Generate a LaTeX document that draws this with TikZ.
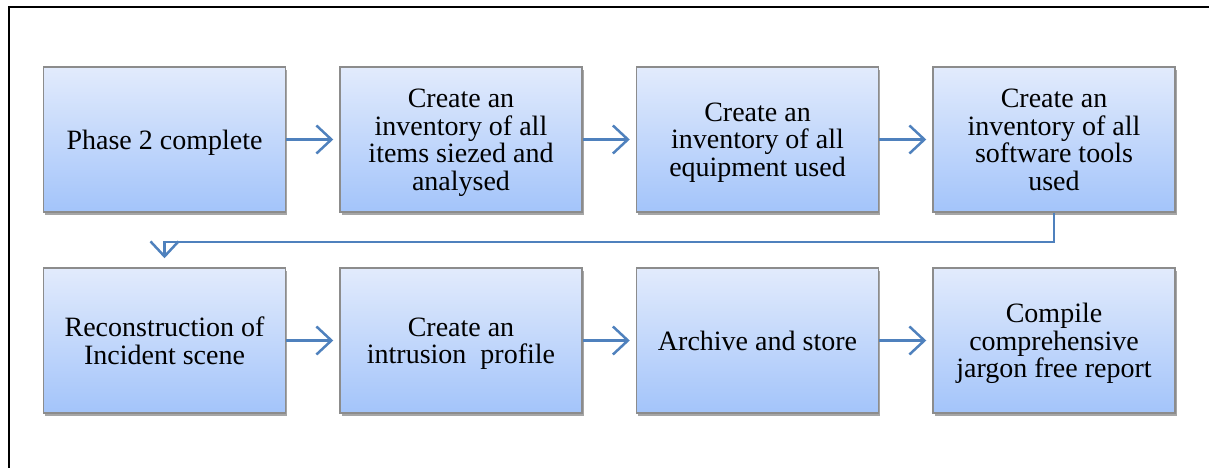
\documentclass[tikz,border=0pt]{standalone}
\usepackage{fontspec}
\setmainfont{Liberation Serif}
\usetikzlibrary{arrows.meta,shadows}
\definecolor{flowblue}{RGB}{79,129,189}
\definecolor{boxtop}{RGB}{226,235,252}
\definecolor{boxbottom}{RGB}{163,196,250}
\definecolor{boxline}{RGB}{140,140,140}
\tikzset{
  stepbox/.style={draw=boxline, line width=1.5pt, top color=boxtop, bottom color=boxbottom,
    minimum width=242pt, minimum height=145pt, align=center, inner sep=4pt,
    text depth=0pt, font=\fontsize{28}{27.5}\selectfont,
    drop shadow={shadow xshift=1.5pt, shadow yshift=-3pt, fill=black, opacity=0.35}},
  flow/.style={draw=flowblue, line width=2.5pt, -{Straight Barb[length=15pt,width=28pt,line width=2.5pt]}, shorten >=6pt}
}
\begin{document}
\begin{tikzpicture}[x=1pt,y=-1pt]
\useasboundingbox (0,0) rectangle (1209,468);
\draw[line width=2pt] (1209,7.5) -- (8.5,7.5) -- (8.5,468);
% first row
\node[stepbox] (phase) at (164.5,139.5) {Phase 2 complete};
\node[stepbox] (items) at (461,139.5) {Create an\\inventory of all\\items siezed and\\analysed};
\node[stepbox] (equip) at (757.5,139.5) {Create an\\inventory of all\\equipment used};
\node[stepbox] (tools) at (1054,139.5) {Create an\\inventory of all\\software tools\\used};
% second row
\node[stepbox] (scene) at (164.5,340.5) {Reconstruction of\\Incident scene};
\node[stepbox] (intrusion) at (461,340.5) {Create an\\intrusion~ profile};
\node[stepbox] (archive) at (757.5,340.5) {Archive and store};
\node[stepbox] (report) at (1054,340.5) {Compile\\comprehensive\\jargon free report};
% arrows
\draw[flow] (phase) -- (items);
\draw[flow] (items) -- (equip);
\draw[flow] (equip) -- (tools);
\draw[flow, shorten >=9pt] (tools.south) -- ++(0,29) -| (scene.north);
\draw[flow] (scene) -- (intrusion);
\draw[flow] (intrusion) -- (archive);
\draw[flow] (archive) -- (report);
\end{tikzpicture}
\end{document}
